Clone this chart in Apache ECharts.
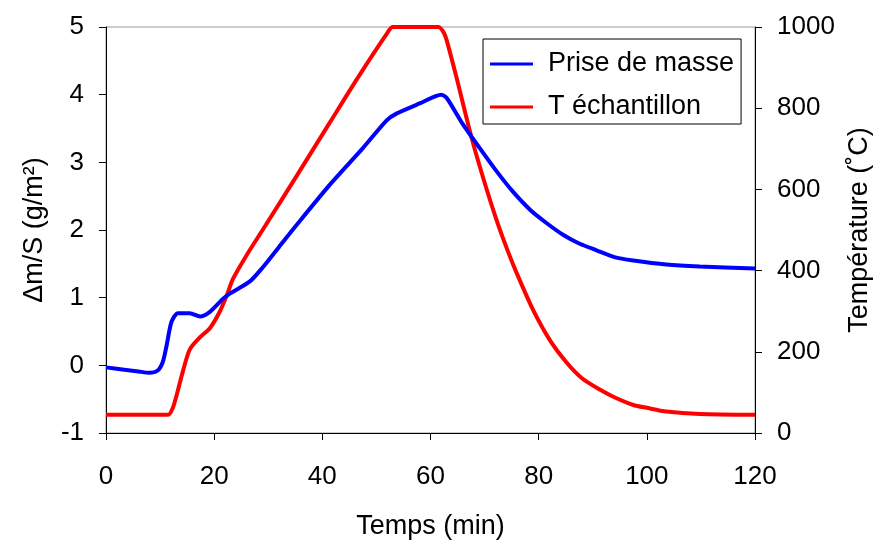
<!DOCTYPE html>
<html><head><meta charset="utf-8">
<script src="https://cdn.jsdelivr.net/npm/echarts@6/dist/echarts.min.js"></script>
<style>html,body{margin:0;padding:0;background:#fff}#c{width:874px;height:543px}</style>
</head><body><div id="c"></div>
<script>
const massTime = [0,3,6,8,9.5,10.5,11.2,12.1,13.3,15.5,17.4,19.2,21.6,22.9,26.6,29,32,35.2,41.4,47.5,51.9,53.7,58,62,63,66,69.1,72.2,75.2,78.4,81.5,84.5,87.5,90.7,94,97.5,103.6,109.8,120];
const massValue = [-0.03,-0.06,-0.09,-0.11,-0.08,0.05,0.29,0.64,0.77,0.77,0.72,0.79,0.98,1.06,1.24,1.45,1.75,2.07,2.67,3.21,3.62,3.72,3.87,4.0,3.95,3.56,3.21,2.87,2.57,2.3,2.1,1.93,1.8,1.7,1.6,1.55,1.49,1.46,1.43];
const tempTime = [0,11.5,12.3,13.1,14.3,15.5,17.4,19.2,21,22.3,23.5,26,29.1,35.2,41.4,46.6,52,53,61.5,62.5,63,64.8,67.6,69.7,72.2,74.3,75.9,78.9,82.1,85.2,88,91.3,94,97.5,100,103.6,109.8,120];
const tempValue = [45,45,60,95,156,206,236,258,298,338,380,438,503,632,765,876,985,1000,1000,985,967,876,727,630,525,448,395,305,228,173,135,107,88,69,62,53,47,45];
const seriesNames = ['Prise de masse','T échantillon'];

const chart = echarts.init(document.getElementById('c'));
const font = 'Liberation Sans';
const tickFont = {fontFamily:font,fontSize:26,color:'#000'};
const titleFont = {fontFamily:font,fontSize:27,color:'#000'};
chart.setOption({
  backgroundColor:'#fff',
  textStyle:{fontFamily:font,color:'#000'},
  grid:{left:106,right:119,top:27,bottom:110,show:true,borderColor:'#999',borderWidth:1,containLabel:false,outerBoundsMode:'none'},
  legend:{
    left:483, top:39, orient:'vertical',
    backgroundColor:'#fff', borderColor:'#000', borderWidth:1,
    padding:[11,7,3,7], itemGap:15,
    icon:'rect', itemWidth:43, itemHeight:3,
    textStyle:{fontFamily:font,fontSize:27,lineHeight:28,color:'#000',padding:[0,0,0,10]},
    data:seriesNames
  },
  xAxis:{
    type:'value', min:0, max:120, interval:20,
    name:'Temps (min)', nameLocation:'middle', nameGap:80,
    nameTextStyle:titleFont,
    axisLine:{onZero:false,lineStyle:{color:'#000',width:1}},
    axisTick:{inside:false,length:7,lineStyle:{color:'#000'}},
    axisLabel:Object.assign({margin:31,formatter:v=>String(v)},tickFont),
    splitLine:{show:false}
  },
  yAxis:[{
    type:'value', min:-1, max:5, interval:1, position:'left',
    name:'Δm/S (g/m²)', nameLocation:'middle', nameGap:58, nameRotate:90,
    nameTextStyle:titleFont,
    axisLine:{show:true,onZero:false,lineStyle:{color:'#000',width:1}},
    axisTick:{show:true,inside:false,length:7,lineStyle:{color:'#000'}},
    axisLabel:Object.assign({margin:22,formatter:v=>String(v)},tickFont),
    splitLine:{show:false}
  },{
    type:'value', min:0, max:1000, interval:200, position:'right',
    name:'Température (˚C)', nameLocation:'middle', nameGap:88, nameRotate:90,
    nameTextStyle:titleFont,
    axisLine:{show:true,onZero:false,lineStyle:{color:'#000',width:1}},
    axisTick:{show:true,inside:false,length:7,lineStyle:{color:'#000'}},
    axisLabel:Object.assign({margin:22,formatter:v=>String(v)},tickFont),
    splitLine:{show:false}
  }],
  series:[{
    name:seriesNames[0], type:'line', yAxisIndex:0, showSymbol:false, symbol:'none', smooth:0.25,
    lineStyle:{color:'#0000ff',width:4}, itemStyle:{color:'#0000ff'},
    data:massTime.map((t,i)=>[t,massValue[i]]), z:3
  },{
    name:seriesNames[1], type:'line', yAxisIndex:1, showSymbol:false, symbol:'none', smooth:0.25,
    lineStyle:{color:'#ff0000',width:4}, itemStyle:{color:'#ff0000'},
    data:tempTime.map((t,i)=>[t,tempValue[i]]), z:2
  }]
});
</script></body></html>
